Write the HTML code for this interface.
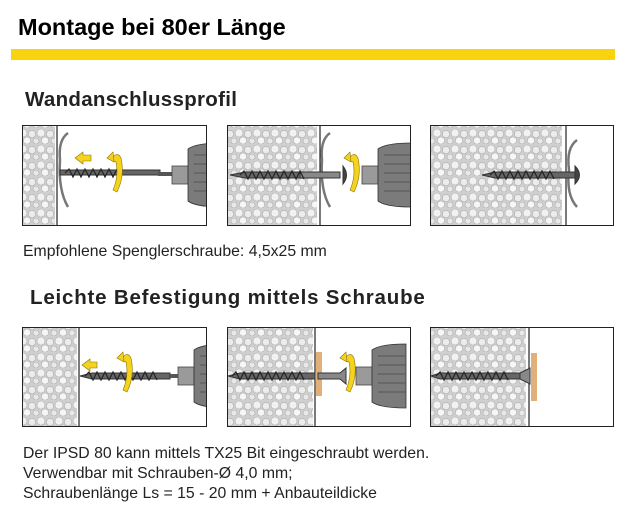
<!DOCTYPE html>
<html><head><meta charset="utf-8"><style>
body{margin:0;width:637px;height:517px;background:#fff;overflow:hidden;font-family:"Liberation Sans",sans-serif;}
</style></head><body>
<svg width="637" height="517" viewBox="0 0 637 517" xmlns="http://www.w3.org/2000/svg">
<defs>
<pattern id="foam" width="18" height="16" patternUnits="userSpaceOnUse">
<rect width="18" height="16" fill="#cfcfcf"/>
<circle cx="5" cy="5" r="4" fill="#f2f2f2" stroke="#b0b0b0" stroke-width="0.6"/>
<circle cx="14" cy="6" r="3.6" fill="#ececec" stroke="#b0b0b0" stroke-width="0.6"/>
<circle cx="9" cy="12.5" r="3.6" fill="#f6f6f6" stroke="#b0b0b0" stroke-width="0.6"/>
<circle cx="0" cy="13" r="3" fill="#e8e8e8" stroke="#b0b0b0" stroke-width="0.6"/>
<circle cx="18" cy="13" r="3" fill="#e8e8e8" stroke="#b0b0b0" stroke-width="0.6"/>
</pattern>
<clipPath id="c1"><rect x="23" y="126" width="183" height="99"/></clipPath>
<clipPath id="c2"><rect x="228" y="126" width="182" height="99"/></clipPath>
<clipPath id="c4"><rect x="23" y="328" width="183" height="98"/></clipPath>
<clipPath id="c5"><rect x="228" y="328" width="182" height="98"/></clipPath>
<g id="drill">
<rect x="0" y="-9" width="16" height="18" fill="#9a9a9a" stroke="#444" stroke-width="0.8"/>
<path d="M16,-26 Q24,-32 50,-32 L50,32 Q24,32 16,26 Z" fill="#7b7b7b" stroke="#333" stroke-width="0.8"/>
<g stroke="#555" stroke-width="1"><line x1="22" y1="-20" x2="50" y2="-20"/><line x1="22" y1="-11" x2="50" y2="-11"/><line x1="22" y1="-2" x2="50" y2="-2"/><line x1="22" y1="7" x2="50" y2="7"/><line x1="22" y1="16" x2="50" y2="16"/></g>
</g>
<g id="rot"><path d="M-4,-8 Q2,-18 6,-10 Q10,8 2,24 L-2,22 Q4,8 1,-6 Z" fill="#f4d21e" stroke="#8a7400" stroke-width="0.6"/><path d="M-8,-10 L-2,-16 L-1,-6 Z" fill="#f4d21e" stroke="#8a7400" stroke-width="0.6"/></g>
</defs>

<text x="18" y="35" font-size="23.5" font-weight="bold" fill="#000">Montage bei 80er Länge</text>
<rect x="11" y="49" width="604" height="11" fill="#f8d30e"/>
<text x="25" y="106" font-size="20.5" font-weight="bold" fill="#222" letter-spacing="0.3">Wandanschlussprofil</text>

<g stroke="#222" stroke-width="1" fill="#fff">
<rect x="22.5" y="125.5" width="184" height="100"/>
<rect x="227.5" y="125.5" width="183" height="100"/>
<rect x="430.5" y="125.5" width="183" height="100"/>
<rect x="22.5" y="327.5" width="184" height="99"/>
<rect x="227.5" y="327.5" width="183" height="99"/>
<rect x="430.5" y="327.5" width="183" height="99"/>
</g>
<rect x="23" y="126" width="32" height="99" fill="url(#foam)"/>
<line x1="57" y1="126" x2="57" y2="225" stroke="#222" stroke-width="1.2"/>
<rect x="228" y="126" width="89" height="99" fill="url(#foam)"/>
<line x1="320" y1="126" x2="320" y2="225" stroke="#222" stroke-width="1.2"/>
<rect x="431" y="126" width="131" height="99" fill="url(#foam)"/>
<line x1="566" y1="126" x2="566" y2="225" stroke="#222" stroke-width="1.2"/>

<g fill="none" stroke="#777" stroke-width="2.5">
<path d="M68,133 Q58,140 60,160 Q58,190 68,207"/>
<path d="M330,133 Q320,140 322,160 Q320,190 330,207"/>
<path d="M577,140 Q566,148 569,170 Q566,195 577,207"/>
</g>
<g stroke="#333" stroke-width="1" fill="#666">
<rect x="60" y="170" width="100" height="5" />
<path d="M230,175 L245,172 L320,172 L320,178 L245,178 Z"/>
<rect x="300" y="172" width="40" height="6" fill="#888"/>
<path d="M343,166 Q350,175 343,184 Z" fill="#444"/>
<path d="M482,175 L495,172 L575,172 L575,178 L495,178 Z"/>
<path d="M575,166 Q584,175 575,184 Z" fill="#444"/>
</g>
<g stroke="#222" stroke-width="1.2">
<path d="M65,173 l4,-4 l4,8 l4,-8 l4,8 l4,-8 l4,8 l4,-8 l4,8 l4,-8 l4,8 l4,-8 l4,8 l4,-8 l4,8" fill="none"/>
<path d="M240,175 l4,-4 l4,8 l4,-8 l4,8 l4,-8 l4,8 l4,-8 l4,8 l4,-8 l4,8 l4,-8 l4,8 l4,-8 l4,8 l4,-8 l4,8" fill="none"/>
<path d="M490,175 l4,-4 l4,8 l4,-8 l4,8 l4,-8 l4,8 l4,-8 l4,8 l4,-8 l4,8 l4,-8 l4,8 l4,-8 l4,8 l4,-8 l4,8" fill="none"/>
</g>
<rect x="158" y="172" width="18" height="4" fill="#555"/>
<g clip-path="url(#c1)"><use href="#drill" x="172" y="175"/></g>
<g clip-path="url(#c2)"><use href="#drill" x="362" y="175"/></g>
<use href="#rot" x="115" y="168"/>
<use href="#rot" x="352" y="168"/>
<path d="M75,158 L83,152 L83,155 L91,155 L91,161 L83,161 L83,164 Z" fill="#f4d21e" stroke="#8a7400" stroke-width="0.6"/>

<text x="23" y="256" font-size="15.8" fill="#222">Empfohlene Spenglerschraube: 4,5x25 mm</text>
<text x="30" y="304" font-size="20.5" font-weight="bold" fill="#222" letter-spacing="0.8">Leichte Befestigung mittels Schraube</text>

<rect x="23" y="328" width="54" height="98" fill="url(#foam)"/>
<line x1="79" y1="328" x2="79" y2="426" stroke="#222" stroke-width="1.2"/>
<rect x="228" y="328" width="85" height="98" fill="url(#foam)"/>
<line x1="315" y1="328" x2="315" y2="426" stroke="#222" stroke-width="1.2"/>
<rect x="431" y="328" width="95" height="98" fill="url(#foam)"/>
<line x1="529" y1="328" x2="529" y2="426" stroke="#222" stroke-width="1.2"/>
<rect x="316" y="352" width="6" height="44" fill="#e0b07a"/>
<rect x="531" y="353" width="6" height="48" fill="#e0b07a"/>
<g stroke="#333" stroke-width="1" fill="#666">
<path d="M80,376 L92,373 L170,373 L170,379 L92,379 Z"/>
<path d="M228,376 L240,373 L315,373 L315,379 L240,379 Z"/>
<path d="M318,373 L340,373 L346,368 L346,384 L340,379 L318,379Z" fill="#888"/>
<path d="M431,376 L440,373 L530,373 L530,379 L440,379 Z"/>
<path d="M520,373 L530,368 L530,384 L520,379Z" fill="#888"/>
</g>
<g stroke="#222" stroke-width="1.2" fill="none">
<path d="M85,376 l4,-4 l4,8 l4,-8 l4,8 l4,-8 l4,8 l4,-8 l4,8 l4,-8 l4,8 l4,-8 l4,8 l4,-8 l4,8 l4,-8 l4,8 l4,-8 l4,8"/>
<path d="M232,376 l4,-4 l4,8 l4,-8 l4,8 l4,-8 l4,8 l4,-8 l4,8 l4,-8 l4,8 l4,-8 l4,8 l4,-8 l4,8 l4,-8 l4,8 l4,-8 l4,8"/>
<path d="M436,376 l4,-4 l4,8 l4,-8 l4,8 l4,-8 l4,8 l4,-8 l4,8 l4,-8 l4,8 l4,-8 l4,8 l4,-8 l4,8 l4,-8 l4,8 l4,-8 l4,8"/>
</g>
<rect x="170" y="374" width="12" height="4" fill="#555"/>
<g clip-path="url(#c4)"><use href="#drill" x="178" y="376"/></g>
<g clip-path="url(#c5)"><use href="#drill" x="356" y="376"/></g>
<use href="#rot" x="125" y="368"/>
<use href="#rot" x="348" y="368"/>
<path d="M82,365 L90,359 L90,362 L97,362 L97,368 L90,368 L90,371 Z" fill="#f4d21e" stroke="#8a7400" stroke-width="0.6"/>

<g font-size="15.8" fill="#222">
<text x="23" y="458">Der IPSD 80 kann mittels TX25 Bit eingeschraubt werden.</text>
<text x="23" y="478">Verwendbar mit Schrauben-Ø 4,0 mm;</text>
<text x="23" y="498">Schraubenlänge Ls = 15 - 20 mm + Anbauteildicke</text>
</g>
</svg>
</body></html>
